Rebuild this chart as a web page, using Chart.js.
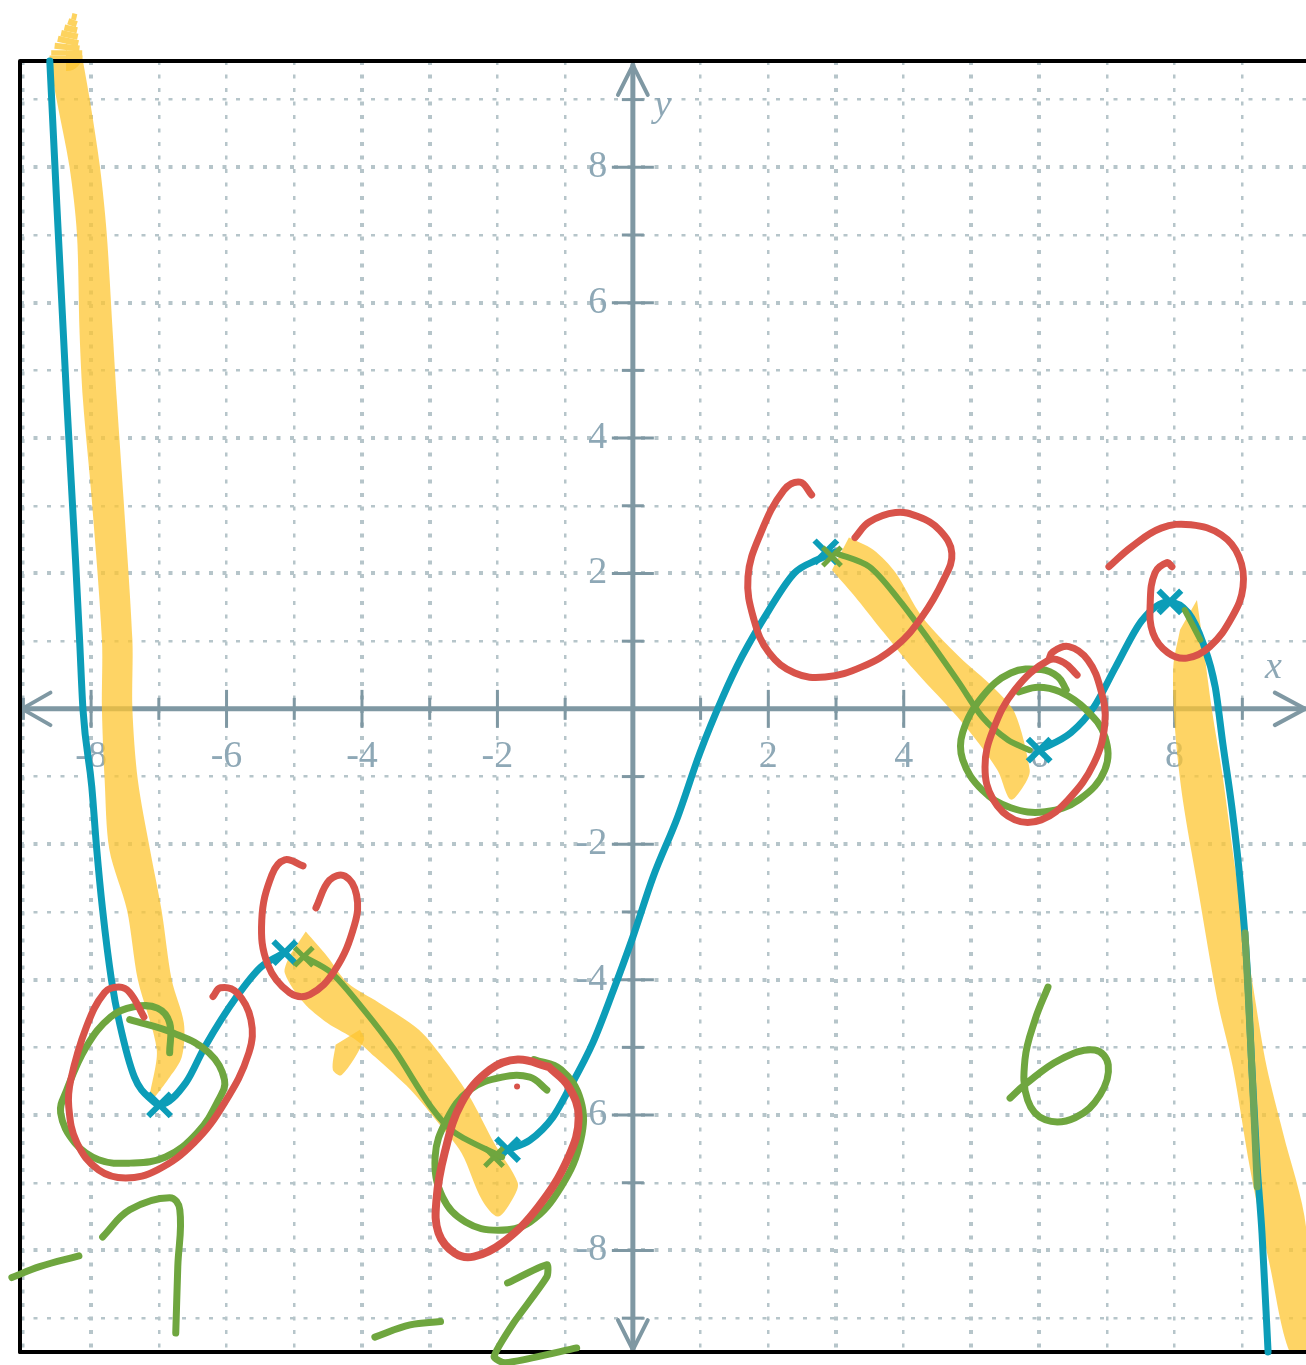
<!DOCTYPE html>
<html>
<head>
<meta charset="utf-8">
<title>Polynomial sketch</title>
<style>
	html, body { margin: 0; padding: 0; background: #fff; }
	canvas { display: block; filter: blur(0.7px); }
</style>
<script src="https://cdn.jsdelivr.net/npm/chart.js@4/dist/chart.umd.js"></script>
</head>
<body>
<canvas id="graph" width="1306" height="1365"></canvas>
<script>
// axis range and ticks, all in graph units
const xRange = [-9.05, 9.94];
const yRange = [-9.5, 9.57];
const xTickLabels = [-8, -6, -4, -2, 2, 4, 6, 8];
const yTickLabels = [-8, -6, -4, -2, 2, 4, 6, 8];
const xOddTicks = [-9, -7, -5, -3, -1, 1, 3, 5, 7, 9];
const yOddTicks = [-9, -7, -5, -3, -1, 1, 3, 5, 7, 9];
const xHeavyGrid = [-8, -4, -3, 3, 5, 6];
const yHeavyGrid = [-8, -6, -4, -2, 2, 4, 6, 8];

// frame and arrows
const frame = [[-9.05, -9.5], [-9.05, 9.57], [9.94, 9.57]];
const frameBottom = [[-9.05, -9.5], [9.94, -9.5]];
const xAxisLine = [[-9.02, 0], [9.93, 0]];
const yAxisLine = [[0, -9.47], [0, 9.51]];
const arrowLeft = [[-8.6, 0.24], [-9.02, 0], [-8.6, -0.24]];
const arrowRight = [[9.48, 0.24], [9.93, 0], [9.48, -0.24]];
const arrowTop = [[-0.22, 9.07], [0, 9.51], [0.22, 9.07]];
const arrowBottom = [[-0.22, -9.03], [0, -9.47], [0.22, -9.03]];

// the curve
const curveLeft = [[-8.61, 9.57], [-8.51, 7.52], [-8.36, 4.56], [-8.23, 2.2], [-8.17, 1.02], [-8.12, -0.01], [-7.99, -1.15], [-7.92, -2.04], [-7.83, -2.97], [-7.7, -4], [-7.58, -4.64], [-7.36, -5.44], [-7.1, -5.78], [-6.99, -5.85], [-6.6, -5.52], [-6.32, -4.99], [-5.85, -4.25], [-5.49, -3.81], [-5.14, -3.6]];
const curveMiddle = [[-1.85, -6.51], [-1.52, -6.37], [-1.18, -6.03], [-0.95, -5.63], [-0.59, -4.93], [-0.3, -4.19], [0, -3.37], [0.3, -2.48], [0.66, -1.6], [0.99, -0.65], [1.33, 0.18], [1.61, 0.77], [2.01, 1.46], [2.39, 2.01], [2.72, 2.2], [3, 2.32]];
const curveRight = [[6, -0.61], [6.47, -0.35], [6.81, 0.03], [7.13, 0.62], [7.52, 1.31], [7.9, 1.58], [8.2, 1.42], [8.42, 0.97], [8.6, 0.32], [8.71, -0.5], [8.85, -1.49], [8.97, -2.57], [9.07, -3.81], [9.14, -5.29], [9.22, -6.77], [9.29, -7.74], [9.38, -9.5]];
const curveMarks = [[-6.99, -5.85], [-5.14, -3.6], [-1.85, -6.51], [2.85, 2.32], [6, -0.61], [7.93, 1.58]];

// green pen
const greenFall1 = [[-4.86, -3.66], [-4.45, -3.9], [-3.97, -4.45], [-3.52, -5.04], [-2.98, -5.88], [-2.63, -6.26], [-1.93, -6.62]];
const greenFall2 = [[3, 2.3], [3.49, 2.1], [3.93, 1.61], [4.37, 1.02], [4.82, 0.38], [5.16, -0.12], [5.54, -0.46], [5.86, -0.61]];
const greenFall3 = [[8.15, 1.46], [8.38, 1.02]];
const greenFall4 = [[9.04, -3.31], [9.14, -5.29], [9.22, -7.06]];
const greenMarks = [[-4.86, -3.66], [-2.05, -6.62], [2.94, 2.25]];
const greenLoop1 = [[-6.84, -5.08], [-6.84, -4.64], [-7.02, -4.42], [-7.37, -4.4], [-7.71, -4.55], [-8.07, -4.99], [-8.36, -5.63], [-8.45, -5.97], [-8.24, -6.41], [-7.89, -6.66], [-7.43, -6.71], [-6.9, -6.62], [-6.43, -6.26], [-6.12, -5.78], [-6.03, -5.48], [-6.26, -5.08], [-6.78, -4.79], [-7.43, -4.59]];
const greenLoop2 = [[-1.27, -5.63], [-1.52, -5.44], [-1.93, -5.44], [-2.41, -5.63], [-2.75, -6.07], [-2.92, -6.62], [-2.81, -7.21], [-2.47, -7.58], [-1.99, -7.7], [-1.52, -7.58], [-1.06, -7.06], [-0.77, -6.37], [-0.77, -5.78], [-1.06, -5.33], [-1.46, -5.18]];
const greenLoop3 = [[6.4, 0.28], [6.28, 0.47], [6.03, 0.58], [5.58, 0.53], [5.16, 0.18], [4.87, -0.35], [4.87, -0.75], [5.16, -1.2], [5.58, -1.46], [6.09, -1.52], [6.59, -1.34], [6.97, -0.9], [6.97, -0.41], [6.69, -0.01], [6.31, 0.25], [5.98, 0.32], [5.7, 0.25]];

// handwritten answers
const minusSeven1 = [[-9.17, -8.4], [-8.76, -8.24], [-8.18, -8.08]];
const minusSeven2 = [[-7.83, -7.8], [-7.43, -7.4], [-6.84, -7.22], [-6.69, -7.4], [-6.72, -8.24], [-6.75, -9.22]];
const minusTwo1 = [[-3.81, -9.28], [-3.29, -9.1], [-2.84, -9.05]];
const minusTwo2 = [[-1.85, -8.48], [-1.27, -8.21], [-1.27, -8.39], [-1.76, -9.07], [-2.05, -9.57], [-1.88, -9.66], [-0.83, -9.44]];
const six = [[6.13, -4.11], [5.94, -4.59], [5.79, -5.18], [5.83, -5.78], [6.09, -6.07], [6.53, -6.04], [6.9, -5.7], [7.02, -5.26], [6.82, -5.04], [6.31, -5.18], [5.79, -5.55], [5.57, -5.75]];

// red pen
const redLoop1 = [[-7.22, -4.55], [-7.43, -4.19], [-7.59, -4.11], [-7.8, -4.19], [-8.07, -4.7], [-8.3, -5.48], [-8.33, -5.88], [-8.21, -6.41], [-7.89, -6.81], [-7.49, -6.93], [-7.02, -6.81], [-6.48, -6.41], [-6.03, -5.82], [-5.67, -5.08], [-5.64, -4.59], [-5.85, -4.19], [-6.09, -4.12], [-6.2, -4.25]];
const redLoop2 = [[-4.87, -2.32], [-5.14, -2.23], [-5.33, -2.45], [-5.48, -3.12], [-5.39, -3.78], [-5.07, -4.19], [-4.77, -4.22], [-4.4, -3.86], [-4.11, -3.19], [-4.08, -2.75], [-4.25, -2.47], [-4.48, -2.53], [-4.68, -2.94]];
const redLoop3 = [[-1.24, -5.29], [-1.7, -5.18], [-2.11, -5.33], [-2.53, -5.82], [-2.78, -6.56], [-2.9, -7.25], [-2.87, -7.74], [-2.63, -8.04], [-2.35, -8.09], [-1.93, -7.89], [-1.4, -7.36], [-0.95, -6.62], [-0.8, -6.03], [-0.95, -5.58], [-1.24, -5.29]];
const redLoop4 = [[2.64, 3.16], [2.47, 3.35], [2.23, 3.23], [1.89, 2.6], [1.7, 1.95], [1.79, 1.31], [2.01, 0.83], [2.39, 0.53], [2.84, 0.47], [3.38, 0.62], [3.88, 0.92], [4.27, 1.36], [4.59, 1.91], [4.71, 2.3], [4.53, 2.64], [4.21, 2.84], [3.88, 2.9], [3.49, 2.76], [3.28, 2.53]];
const redLoop5 = [[6.56, 0.5], [6.37, 0.68], [6.14, 0.72], [5.64, 0.28], [5.32, -0.31], [5.2, -0.86], [5.32, -1.34], [5.64, -1.64], [6.03, -1.64], [6.43, -1.34], [6.81, -0.8], [6.97, -0.21], [6.91, 0.28], [6.72, 0.72], [6.44, 0.92], [6.2, 0.84], [6.14, 0.72]];
const redLoop6 = [[7.03, 2.1], [7.36, 2.39], [7.8, 2.67], [8.24, 2.72], [8.69, 2.57], [8.95, 2.25], [9.01, 1.8], [8.85, 1.36], [8.52, 0.92], [8.18, 0.75], [7.9, 0.83], [7.68, 1.12], [7.64, 1.57], [7.71, 2.01], [7.89, 2.16], [7.96, 2.1]];
const redDot = [[-1.71, -5.58]];

// highlighter shapes
const yellowLeft = [[-8.12, 9.57], [-8.02, 9], [-7.87, 8.01], [-7.77, 7.03], [-7.68, 5.55], [-7.62, 4.56], [-7.52, 3.09], [-7.39, 1.02], [-7.39, -0.01], [-7.31, -1.05], [-7.13, -2.08], [-6.96, -2.97], [-6.81, -4], [-6.63, -4.64], [-6.66, -5.14], [-6.84, -5.44], [-7.13, -5.78], [-7.03, -5.04], [-7.31, -4], [-7.47, -2.97], [-7.73, -2.08], [-7.8, -1.05], [-7.84, -0.01], [-7.84, 1.02], [-7.99, 3.09], [-8.12, 4.56], [-8.17, 5.55], [-8.21, 7.03], [-8.32, 8.01], [-8.51, 9], [-8.61, 9.57]];
const yellowTip = [[-8.37, 9.56], [-8.37, 9.65], [-8.36, 9.73], [-8.35, 9.82], [-8.33, 9.91], [-8.31, 10], [-8.29, 10.09], [-8.26, 10.18], [-8.24, 10.27]];
const yellowTipWidths = [33, 31, 25, 21, 17, 13, 9, 5];
const yellowFall1 = [[-4.83, -3.29], [-4.51, -3.66], [-4.21, -4.05], [-3.75, -4.34], [-3.16, -4.74], [-2.75, -5.23], [-2.41, -5.73], [-2.05, -6.41], [-1.7, -7], [-1.76, -7.21], [-1.99, -7.5], [-2.23, -7.25], [-2.53, -6.56], [-2.87, -6.12], [-3.28, -5.63], [-3.81, -5.14], [-4.09, -4.89], [-4.51, -4.64], [-4.86, -4.34], [-5.14, -3.9], [-5.08, -3.66]];
const yellowFlick = [[-4.03, -4.74], [-3.97, -4.89], [-4.3, -5.41], [-4.43, -5.33], [-4.39, -4.96]];
const yellowFall2 = [[3.19, 2.53], [3.55, 2.35], [3.88, 2.01], [4.27, 1.36], [4.82, 0.77], [5.32, 0.32], [5.64, -0.06], [5.86, -0.9], [5.8, -1.09], [5.58, -1.34], [5.38, -0.9], [4.87, -0.21], [4.15, 0.58], [3.71, 1.12], [3.32, 1.61], [2.94, 2.05]];
const yellowRight = [[8.33, 1.61], [8.42, 0.97], [8.55, -0.01], [8.71, -1], [8.89, -2.33], [9.19, -4.3], [9.36, -5.29], [9.6, -6.26], [9.94, -7.65], [9.94, -9.5], [9.7, -9.5], [9.41, -8.24], [9.11, -6.77], [8.86, -5.29], [8.63, -4.3], [8.33, -2.57], [8.12, -1.34], [8.01, -0.35], [7.98, 0.62], [8.08, 1.17]];

const AXIS = '#7f98a3';
const GRID = '#b6c5ca';
const LABEL = '#8ea8b6';
const TEAL = '#0c9db8';
const GREEN = '#6fa63f';
const RED = '#d8534a';
const YELLOW = 'rgba(253, 198, 50, 0.75)';

const toPoints = pairs => pairs.map(p => ({ x: p[0], y: p[1] }));

// lower order value ends up on top
const stroke = (pairs, color, width, order, smooth = 0.4) => ({
	data: toPoints(pairs),
	showLine: true,
	borderColor: color,
	borderWidth: width,
	borderCapStyle: 'round',
	borderJoinStyle: 'round',
	tension: smooth,
	pointRadius: 0,
	clip: false,
	order: order
});

// the curve runs left to right, so it can be eased along x
const curve = pairs => {
	const line = stroke(pairs, TEAL, 7, 4);
	line.cubicInterpolationMode = 'monotone';
	return line;
};

const shape = pairs => ({
	data: toPoints(pairs),
	showLine: true,
	fill: 'shape',
	backgroundColor: YELLOW,
	borderWidth: 0,
	tension: 0.3,
	pointRadius: 0,
	clip: false,
	order: 6
});

const marks = (pairs, color, radius, width, order) => ({
	data: toPoints(pairs),
	showLine: false,
	pointStyle: 'crossRot',
	pointRadius: radius,
	pointBorderColor: color,
	pointBorderWidth: width,
	clip: false,
	order: order
});

// tick marks on the axes, as rotated line points
const allTicks = (labels, odd) => labels.concat(odd);
const xTicks = {
	data: allTicks(xTickLabels, xOddTicks).map(v => ({ x: v, y: 0 })),
	showLine: false,
	pointStyle: 'line',
	pointRotation: 90,
	pointRadius: ctx => xOddTicks.includes(ctx.raw.x) ? 11 : 19,
	pointBorderColor: AXIS,
	pointBorderWidth: 3,
	order: 8
};
const yTicks = {
	data: allTicks(yTickLabels, yOddTicks).map(v => ({ x: 0, y: v })),
	showLine: false,
	pointStyle: 'line',
	pointRadius: ctx => yOddTicks.includes(ctx.raw.y) ? 11 : 21,
	pointBorderColor: AXIS,
	pointBorderWidth: 3,
	order: 8
};

const tipStroke = stroke(yellowTip, '#fdd35f', 20, 6, 0);
tipStroke.borderCapStyle = 'butt';
tipStroke.segment = { borderWidth: ctx => yellowTipWidths[ctx.p0DataIndex] };

const datasets = [
	xTicks,
	yTicks,
	stroke(xAxisLine, AXIS, 5, 7, 0),
	stroke(yAxisLine, AXIS, 5, 7, 0),
	stroke(arrowLeft, AXIS, 4, 7, 0),
	stroke(arrowRight, AXIS, 4, 7, 0),
	stroke(arrowTop, AXIS, 4, 7, 0),
	stroke(arrowBottom, AXIS, 4, 7, 0),
	shape(yellowLeft),
	shape(yellowFall1),
	shape(yellowFlick),
	shape(yellowFall2),
	shape(yellowRight),
	tipStroke,
	stroke(frame, '#000', 4, 5, 0),
	stroke(frameBottom, '#000', 4, 5, 0),
	curve(curveLeft),
	curve(curveMiddle),
	curve(curveRight),
	marks(curveMarks, TEAL, 16, 6, 4),
	stroke(greenFall1, GREEN, 6, 3, 0.3),
	stroke(greenFall2, GREEN, 6, 3, 0.3),
	stroke(greenFall3, GREEN, 6, 3, 0.3),
	stroke(greenFall4, '#6fa65a', 7, 3, 0.3),
	marks(greenMarks, GREEN, 13, 5, 3),
	stroke(greenLoop1, GREEN, 7, 3),
	stroke(greenLoop2, GREEN, 7, 3),
	stroke(greenLoop3, GREEN, 7, 3),
	stroke(minusSeven1, GREEN, 7, 3),
	stroke(minusSeven2, GREEN, 7, 3),
	stroke(minusTwo1, GREEN, 7, 3),
	stroke(minusTwo2, GREEN, 7, 3, 0.2),
	stroke(six, GREEN, 7, 3),
	stroke(redLoop1, RED, 7, 2),
	stroke(redLoop2, RED, 7, 2),
	stroke(redLoop3, RED, 8, 2),
	stroke(redLoop4, RED, 7, 2),
	stroke(redLoop5, RED, 7, 2),
	stroke(redLoop6, RED, 7, 2),
	{ data: toPoints(redDot), showLine: false, pointRadius: 3, pointBackgroundColor: RED, pointBorderWidth: 0, clip: false, order: 2 }
];

// italic x and y next to the axes
const axisNames = {
	id: 'axisNames',
	beforeDatasetsDraw(chart) {
		const { ctx, scales } = chart;
		ctx.save();
		ctx.fillStyle = LABEL;
		ctx.font = 'italic 38px "Liberation Serif"';
		ctx.textAlign = 'center';
		ctx.textBaseline = 'middle';
		ctx.fillText('x', scales.x.getPixelForValue(9.46), scales.y.getPixelForValue(0.6));
		ctx.fillText('y', scales.x.getPixelForValue(0.44), scales.y.getPixelForValue(8.9));
		ctx.restore();
	}
};

const tickFont = { family: '"Liberation Serif"', size: 38 };

// axes sit inside the plot, their labels must not shrink it
const noPadding = scale => {
	scale.paddingLeft = 0;
	scale.paddingRight = 0;
	scale.paddingTop = 0;
	scale.paddingBottom = 0;
};

const graph = new Chart(document.getElementById('graph'), {
	type: 'scatter',
	data: { datasets: datasets },
	plugins: [axisNames],
	options: {
		responsive: false,
		animation: false,
		layout: { autoPadding: false, padding: { left: 20, top: 61, right: 0, bottom: 13 } },
		elements: { line: { capBezierPoints: false } },
		scales: {
			x: {
				type: 'linear',
				position: { y: 0 },
				min: xRange[0],
				max: xRange[1],
				afterFit: noPadding,
				border: { display: false, dash: [4, 9.5] },
				grid: {
					color: GRID,
					drawTicks: false,
					lineWidth: ctx => xHeavyGrid.includes(ctx.tick.value) ? 4 : 2.5
				},
				ticks: {
					stepSize: 1,
					includeBounds: false,
					autoSkip: false,
					maxRotation: 0,
					padding: 25,
					color: LABEL,
					font: tickFont,
					callback: v => xTickLabels.includes(v) ? String(v) : ''
				}
			},
			y: {
				type: 'linear',
				// labels are right aligned on this line, just left of the drawn axis
				position: { x: -0.38 },
				min: yRange[0],
				max: yRange[1],
				afterFit: noPadding,
				border: { display: false, dash: [4, 9.5] },
				grid: {
					color: GRID,
					drawTicks: false,
					lineWidth: ctx => yHeavyGrid.includes(ctx.tick.value) ? 4 : 2.5
				},
				ticks: {
					stepSize: 1,
					includeBounds: false,
					autoSkip: false,
					color: LABEL,
					font: tickFont,
					callback: v => yTickLabels.includes(v) ? String(v) : ''
				}
			}
		},
		plugins: {
			legend: { display: false },
			tooltip: { enabled: false }
		}
	}
});
</script>
</body>
</html>
